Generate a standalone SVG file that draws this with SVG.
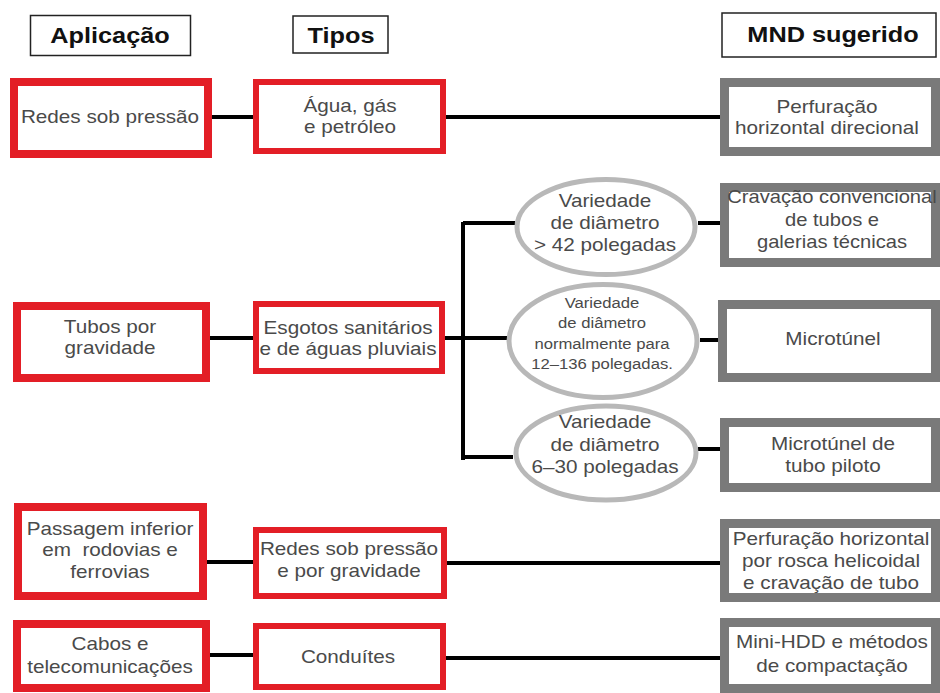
<svg xmlns="http://www.w3.org/2000/svg" width="940" height="693" viewBox="0 0 940 693">
<style>
.hdr{fill:#fff;stroke:#222;stroke-width:1.5}
.ht{font-family:"Liberation Sans",Arial,sans-serif;font-weight:bold;font-size:22px;fill:#111;text-anchor:middle}
.redL{fill:#fff;stroke:#e31e26;stroke-width:8}
.redM{fill:#fff;stroke:#e31e26;stroke-width:6}
.grey{fill:#fff;stroke:#7a7a7a;stroke-width:9}
.ell{fill:#fff;stroke:#b8b8b8;stroke-width:5}
.t{font-family:"Liberation Sans",Arial,sans-serif;font-size:18px;fill:#4a4a4a;text-anchor:middle}
.ts{font-family:"Liberation Sans",Arial,sans-serif;font-size:14.5px;fill:#4a4a4a;text-anchor:middle}
.c{stroke:#000;stroke-width:4;fill:none}
</style>
<rect width="940" height="693" fill="#fff"/>

<g id="h-aplicacao"><rect class="hdr" x="30.5" y="15.5" width="160" height="40"/><text class="ht" transform="translate(110 43) scale(1.15 1)">Aplicação</text></g>
<g id="h-tipos"><rect class="hdr" x="293" y="16" width="95" height="37"/><text class="ht" transform="translate(341 43) scale(1.15 1)">Tipos</text></g>
<g id="h-mnd"><rect class="hdr" x="722" y="13" width="214" height="44"/><text class="ht" transform="translate(833 42) scale(1.15 1)">MND sugerido</text></g>

<g id="connectors">
<path class="c" d="M212 117H253M446 117H722"/>
<path class="c" d="M210 338H253M445 338H463M463 222V460M463 223H515M463 338H507M463 457H513"/>
<path class="c" d="M698 223H722M700 340H722M698 449H722"/>
<path class="c" d="M207 562H253M447 563H722"/>
<path class="c" d="M210 655H253M446 658H722"/>
</g>

<g id="a1"><rect class="redL" x="14" y="82" width="194" height="72"/><text class="t" transform="translate(110 123) scale(1.15 1)">Redes sob pressão</text></g>
<g id="t1"><rect class="redM" x="256" y="82" width="187" height="69"/><text class="t" transform="translate(350 0) scale(1.15 1)"><tspan x="0" y="112">Água, gás</tspan><tspan x="0" y="133">e petróleo</tspan></text></g>
<g id="m1"><rect class="grey" x="724.5" y="82.5" width="211" height="69"/><text class="t" transform="translate(827 0) scale(1.15 1)"><tspan x="0" y="113">Perfuração</tspan><tspan x="0" y="134">horizontal direcional</tspan></text></g>

<g id="a2"><rect class="redL" x="17" y="306" width="189" height="72"/><text class="t" transform="translate(110 0) scale(1.15 1)"><tspan x="0" y="333">Tubos por</tspan><tspan x="0" y="354">gravidade</tspan></text></g>
<g id="t2"><rect class="redM" x="256" y="304" width="186" height="67"/><text class="t" transform="translate(348 0) scale(1.15 1)"><tspan x="0" y="334">Esgotos sanitários</tspan><tspan x="0" y="355">e de águas pluviais</tspan></text></g>

<g id="e1"><ellipse class="ell" cx="606" cy="227" rx="89" ry="47.5"/><text class="t" transform="translate(605 0) scale(1.15 1)"><tspan x="0" y="207">Variedade</tspan><tspan x="0" y="229">de diâmetro</tspan><tspan x="0" y="251">&gt; 42 polegadas</tspan></text></g>
<g id="e2"><ellipse class="ell" cx="603" cy="341" rx="94" ry="56.5"/><text class="ts" transform="translate(602 0) scale(1.15 1)"><tspan x="0" y="308">Variedade</tspan><tspan x="0" y="328">de diâmetro</tspan><tspan x="0" y="349">normalmente para</tspan><tspan x="0" y="369">12–136 polegadas.</tspan></text></g>
<g id="e3"><ellipse class="ell" cx="606" cy="453" rx="90" ry="47"/><text class="t" transform="translate(605 0) scale(1.15 1)"><tspan x="0" y="428">Variedade</tspan><tspan x="0" y="451">de diâmetro</tspan><tspan x="0" y="473">6–30 polegadas</tspan></text></g>

<g id="m2"><rect class="grey" x="724.5" y="187.5" width="211" height="75"/><text class="t" transform="translate(832 0) scale(1.12 1)"><tspan x="0" y="203">Cravação convencional</tspan><tspan x="0" y="226">de tubos e</tspan><tspan x="0" y="248">galerias técnicas</tspan></text></g>
<g id="m3"><rect class="grey" x="722.5" y="304.5" width="213" height="73"/><text class="t" transform="translate(833 345) scale(1.15 1)">Microtúnel</text></g>
<g id="m4"><rect class="grey" x="724.5" y="422.5" width="211" height="65"/><text class="t" transform="translate(833 0) scale(1.15 1)"><tspan x="0" y="450">Microtúnel de</tspan><tspan x="0" y="472">tubo piloto</tspan></text></g>

<g id="a3"><rect class="redL" x="18" y="507" width="185" height="89"/><text class="t" transform="translate(110 0) scale(1.15 1)" xml:space="preserve"><tspan x="0" y="535">Passagem inferior</tspan><tspan x="0" y="556">em  rodovias e</tspan><tspan x="0" y="578">ferrovias</tspan></text></g>
<g id="t3"><rect class="redM" x="256" y="530" width="188" height="66"/><text class="t" transform="translate(349 0) scale(1.15 1)"><tspan x="0" y="555">Redes sob pressão</tspan><tspan x="0" y="577">e por gravidade</tspan></text></g>
<g id="m5"><rect class="grey" x="724.5" y="523.5" width="211" height="74"/><text class="t" transform="translate(831 0) scale(1.15 1)"><tspan x="0" y="545">Perfuração horizontal</tspan><tspan x="0" y="567">por rosca helicoidal</tspan><tspan x="0" y="589">e cravação de tubo</tspan></text></g>

<g id="a4"><rect class="redL" x="17" y="624" width="189" height="64"/><text class="t" transform="translate(110 0) scale(1.15 1)"><tspan x="0" y="650">Cabos e</tspan><tspan x="0" y="673">telecomunicações</tspan></text></g>
<g id="t4"><rect class="redM" x="256" y="626" width="187" height="61"/><text class="t" transform="translate(348 663) scale(1.15 1)">Conduítes</text></g>
<g id="m6"><rect class="grey" x="724.5" y="622.5" width="211" height="66"/><text class="t" transform="translate(832 0) scale(1.15 1)"><tspan x="0" y="648">Mini-HDD e métodos</tspan><tspan x="0" y="672">de compactação</tspan></text></g>
</svg>
